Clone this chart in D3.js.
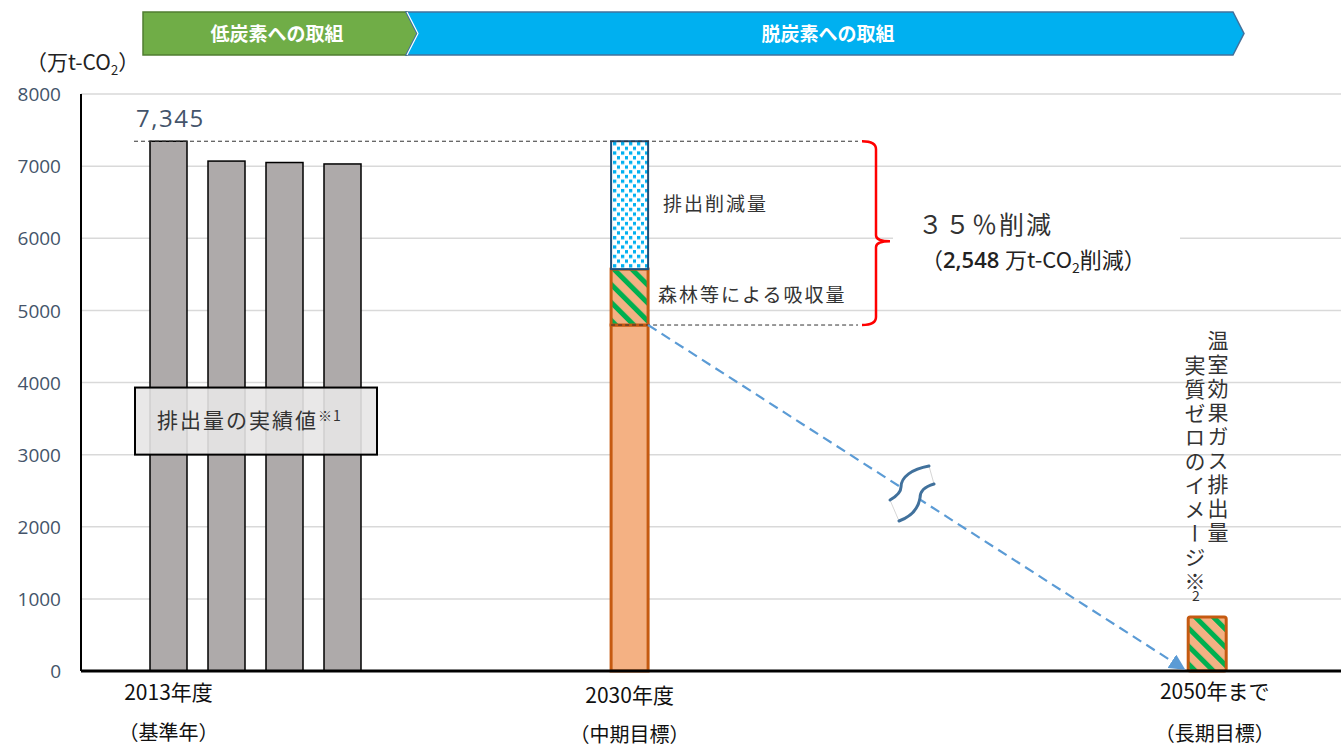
<!DOCTYPE html>
<html><head><meta charset="utf-8">
<script src="https://cdn.jsdelivr.net/npm/d3@7"></script>
<style>
html,body{margin:0;padding:0;background:#fff;}
svg{display:block;font-family:"Noto Sans CJK JP","Noto Sans",sans-serif;}
</style></head>
<body>
<svg id="chart" width="1341" height="747"></svg>
<script>
// ---------- data ----------
const yTicks = [0,1000,2000,3000,4000,5000,6000,7000,8000];
const actualYears = ["2013","2014","2015","2016"];
const actualValues = [7345, 7070, 7050, 7030];
const stackKeys2030 = ["排出量","森林等による吸収量","排出削減量"];
const stackValues2030 = [4797, 775, 1773];
const value2050 = 750;
const groupLabels = ["2013年度","2030年度","2050年まで"];
const groupSubLabels = ["（基準年）","（中期目標）","（長期目標）"];
const phaseLabels = ["低炭素への取組","脱炭素への取組"];
const baseValueLabel = "7,345";
const reductionLabel = "３５％削減";
const reductionAmount = "2,548";

// ---------- layout ----------
const plotLeft = 81, plotRight = 1341;
const svg = d3.select("#chart");
const y = d3.scaleLinear().domain([0, 8000]).range([671, 94]);
const x = d3.scaleLinear().domain([0, 1]).range([168.5, 226.5]);
const slot2030 = 7.95, slot2050 = 17.9;
const barW = 37;

// ---------- defs (patterns) ----------
const defs = svg.append("defs");
const dots = defs.append("pattern").attr("id","dots").attr("patternUnits","userSpaceOnUse")
  .attr("x",612).attr("y",141).attr("width",8).attr("height",9.4);
dots.append("rect").attr("width",8).attr("height",9.4).attr("fill","#fff");
dots.append("rect").attr("x",1).attr("y",1).attr("width",3.3).attr("height",3.3).attr("fill","#00B0F0");
dots.append("rect").attr("x",5).attr("y",5.7).attr("width",3.3).attr("height",3.3).attr("fill","#00B0F0");

const forest = defs.append("pattern").attr("id","forest").attr("patternUnits","userSpaceOnUse")
  .attr("width",12.7).attr("height",10).attr("patternTransform","rotate(-45)");
forest.append("rect").attr("width",12.7).attr("height",10).attr("fill","#F4B183");
forest.append("rect").attr("x",0).attr("y",0).attr("width",5).attr("height",10).attr("fill","#00B050");

// ---------- gridlines ----------
svg.append("g").selectAll("line").data(yTicks.filter(d=>d>0)).join("line")
  .attr("x1",plotLeft).attr("x2",plotRight)
  .attr("y1",d=>y(d)).attr("y2",d=>y(d))
  .attr("stroke","#D9D9D9").attr("stroke-width",1.5);

svg.append("rect").attr("x",893).attr("y",y(6000)-30).attr("width",287).attr("height",60).attr("fill","#fff");

// ---------- y axis ----------
const yAxis = d3.axisLeft(y).tickValues(yTicks).tickSize(0).tickPadding(0).tickFormat(d3.format("d"));
const gy = svg.append("g").attr("transform",`translate(61,0)`).call(yAxis);
gy.select(".domain").remove();
gy.selectAll("text").attr("font-size",19).attr("fill","#44546A")
  .attr("font-family","'Open Sans','Noto Sans',sans-serif").attr("dy","0.35em");

svg.append("line").attr("x1",plotLeft).attr("x2",plotLeft).attr("y1",y(8000)).attr("y2",y(0))
  .attr("stroke","#000").attr("stroke-width",2);

const unit = svg.append("text").attr("x",26).attr("y",70).attr("font-size",21).attr("fill","#222");
unit.append("tspan").text("（万t-CO");
unit.append("tspan").attr("font-size",13).attr("dy",5).text("2");
unit.append("tspan").attr("dy",-5).text("）");

// ---------- actual bars ----------
svg.append("g").selectAll("rect").data(actualValues).join("rect")
  .attr("x",(d,i)=>x(i)-barW/2).attr("width",barW)
  .attr("y",d=>y(d)).attr("height",d=>y(0)-y(d))
  .attr("fill","#AEAAAA").attr("stroke","#000").attr("stroke-width",1.5);

// ---------- 2030 stacked bar ----------
const cx30 = x(slot2030);
let cum = 0;
const stack30 = stackValues2030.map((v,i)=>{const s={key:stackKeys2030[i],y0:cum,y1:cum+v};cum+=v;return s;});
const fills30 = ["#F4B183","url(#forest)","url(#dots)"];
const strokes30 = ["#C55A11","#C55A11","#1F4E79"];
svg.append("g").selectAll("rect").data(stack30).join("rect")
  .attr("x",cx30-barW/2).attr("width",barW)
  .attr("y",d=>y(d.y1)).attr("height",d=>y(d.y0)-y(d.y1))
  .attr("fill",(d,i)=>fills30[i]).attr("stroke",(d,i)=>strokes30[i])
  .attr("stroke-width",(d,i)=>i===2?2:3);

// ---------- 2050 bar ----------
const cx50 = x(slot2050);
svg.append("rect").attr("x",cx50-barW/2).attr("width",barW+1)
  .attr("y",y(value2050)).attr("height",y(0)-y(value2050))
  .attr("rx",2).attr("fill","url(#forest)").attr("stroke","#C55A11").attr("stroke-width",3);

// ---------- x axis ----------
svg.append("line").attr("x1",plotLeft).attr("x2",plotRight).attr("y1",y(0)).attr("y2",y(0))
  .attr("stroke","#000").attr("stroke-width",3);

// ---------- dashed reference lines ----------
svg.append("line").attr("x1",134).attr("x2",858).attr("y1",y(actualValues[0])).attr("y2",y(actualValues[0]))
  .attr("stroke","#333").attr("stroke-width",1).attr("stroke-dasharray","4,3");
svg.append("line").attr("x1",cx30-barW/2).attr("x2",858).attr("y1",y(stackValues2030[0])).attr("y2",y(stackValues2030[0]))
  .attr("stroke","#333").attr("stroke-width",1).attr("stroke-dasharray","4,3");

// ---------- red bracket ----------
const bt = y(actualValues[0]), bb = y(stackValues2030[0]), bm = y(6000)+3;
svg.append("path")
  .attr("d",`M862,${bt} Q876,${bt} 876,${bt+8} L876,${bm-6} Q876,${bm} 890,${bm} Q876,${bm} 876,${bm+6} L876,${bb-8} Q876,${bb} 862,${bb}`)
  .attr("fill","none").attr("stroke","#FF0000").attr("stroke-width",2.5);

// ---------- dashed arrow ----------
defs.append("marker").attr("id","arr").attr("viewBox","0 0 10 10").attr("refX",9).attr("refY",5)
  .attr("markerWidth",9).attr("markerHeight",9).attr("markerUnits","userSpaceOnUse")
  .attr("orient","auto").attr("markerWidth",16).attr("markerHeight",16)
  .append("path").attr("d","M0,0 L10,5 L0,10 Z").attr("fill","#5B9BD5");
svg.append("line").attr("x1",cx30+barW/2).attr("y1",y(stackValues2030[0]))
  .attr("x2",1184).attr("y2",669)
  .attr("stroke","#5B9BD5").attr("stroke-width",2.2).attr("stroke-dasharray","10,6")
  .attr("marker-end","url(#arr)");

// break symbol
svg.append("path").attr("d","M929,466 C912,469 901,477 901,487 C901,492 897,496 890,500 L899,521 C910,517 918,510 920,498 C920,491 924,487 934,484 Z")
  .attr("fill","#fff").attr("stroke","#bbb").attr("stroke-width",0.6);
svg.append("path").attr("d","M929,466 C912,469 901,477 901,487 C901,492 897,496 890,500")
  .attr("fill","none").attr("stroke","#41719C").attr("stroke-width",3).attr("stroke-linecap","round");
svg.append("path").attr("d","M934,484 C924,487 920,491 920,498 C918,510 910,517 899,521")
  .attr("fill","none").attr("stroke","#41719C").attr("stroke-width",3).attr("stroke-linecap","round");

// ---------- actual-values box ----------
svg.append("rect").attr("x",135).attr("y",y(3930)).attr("width",242).attr("height",y(3000)-y(3930))
  .attr("fill","#E7E6E6").attr("fill-opacity",0.9).attr("stroke","#000").attr("stroke-width",2);
const bx = svg.append("text").attr("x",157).attr("y",428).attr("font-size",21).attr("fill","#333").attr("letter-spacing",2);
bx.append("tspan").text("排出量の実績値");
bx.append("tspan").attr("font-size",14).attr("dy",-7).attr("letter-spacing",1).text("※");
bx.append("tspan").attr("font-size",14).text("1");

// ---------- value labels ----------
svg.append("text").attr("x",136).attr("y",127).attr("font-size",24).attr("letter-spacing",1.5)
  .attr("fill","#44546A").attr("font-family","'Open Sans','Noto Sans',sans-serif").text(baseValueLabel);

svg.append("text").attr("x",663).attr("y",211).attr("font-size",19).attr("letter-spacing",2).attr("fill","#333").text(stackKeys2030[2]);
svg.append("text").attr("x",658).attr("y",302).attr("font-size",19).attr("letter-spacing",2).attr("fill","#333").text(stackKeys2030[1]);

svg.append("text").attr("x",918).attr("y",234).attr("font-size",25).attr("letter-spacing",2).attr("fill","#333").text(reductionLabel);
const rl = svg.append("text").attr("x",921).attr("y",268).attr("font-size",22).attr("fill","#222");
rl.append("tspan").text("（");
rl.append("tspan").attr("font-family","'Open Sans',sans-serif").attr("font-weight",600).text(reductionAmount+" ");
rl.append("tspan").text("万t-CO");
rl.append("tspan").attr("font-size",14).attr("dy",5).text("2");
rl.append("tspan").attr("dy",-5).text("削減）");

// vertical text
svg.append("text").attr("x",1218).attr("y",330).attr("font-size",21).attr("letter-spacing",3)
  .attr("fill","#333").style("writing-mode","vertical-rl").text("温室効果ガス排出量");
svg.append("text").attr("x",1195).attr("y",355).attr("font-size",21).attr("letter-spacing",3)
  .attr("fill","#333").style("writing-mode","vertical-rl").text("実質ゼロのイメージ※");
svg.append("text").attr("x",1196).attr("y",601).attr("font-size",14).attr("text-anchor","middle").attr("fill","#333").text("2");

// ---------- x labels ----------
const labelX = [x(0), cx30, cx50+8];
const labelY1 = [700, 703, 699];
const labelY2 = [740, 742, 741];
svg.append("g").selectAll("text").data(groupLabels).join("text")
  .attr("x",(d,i)=>labelX[i]).attr("y",(d,i)=>labelY1[i]).attr("text-anchor","middle")
  .attr("font-size",21).attr("fill","#111").text(d=>d);
svg.append("g").selectAll("text").data(groupSubLabels).join("text")
  .attr("x",(d,i)=>labelX[i]).attr("y",(d,i)=>labelY2[i]).attr("text-anchor","middle")
  .attr("font-size",20).attr("fill","#111").text(d=>d);

// ---------- phase banners ----------
svg.append("path").attr("d","M143,12 L407,12 L418,33.5 L407,55 L143,55 Z")
  .attr("fill","#70AD47").attr("stroke","#507E32").attr("stroke-width",1.5);
svg.append("path").attr("d","M406,12 L1233,12 L1244,33.5 L1233,55 L406,55 L417,33.5 Z")
  .attr("fill","#00B0F0").attr("stroke","#41719C").attr("stroke-width",1.5);
svg.append("path").attr("d","M407,12 L418,33.5 L407,55").attr("fill","none").attr("stroke","#fff").attr("stroke-width",1.2);
const bannerX = [277, 828];
svg.append("g").selectAll("text").data(phaseLabels).join("text")
  .attr("x",(d,i)=>bannerX[i]).attr("y",34).attr("dy","0.35em").attr("text-anchor","middle")
  .attr("font-size",19).attr("font-weight","bold").attr("fill","#fff").text(d=>d);
</script>
</body></html>
